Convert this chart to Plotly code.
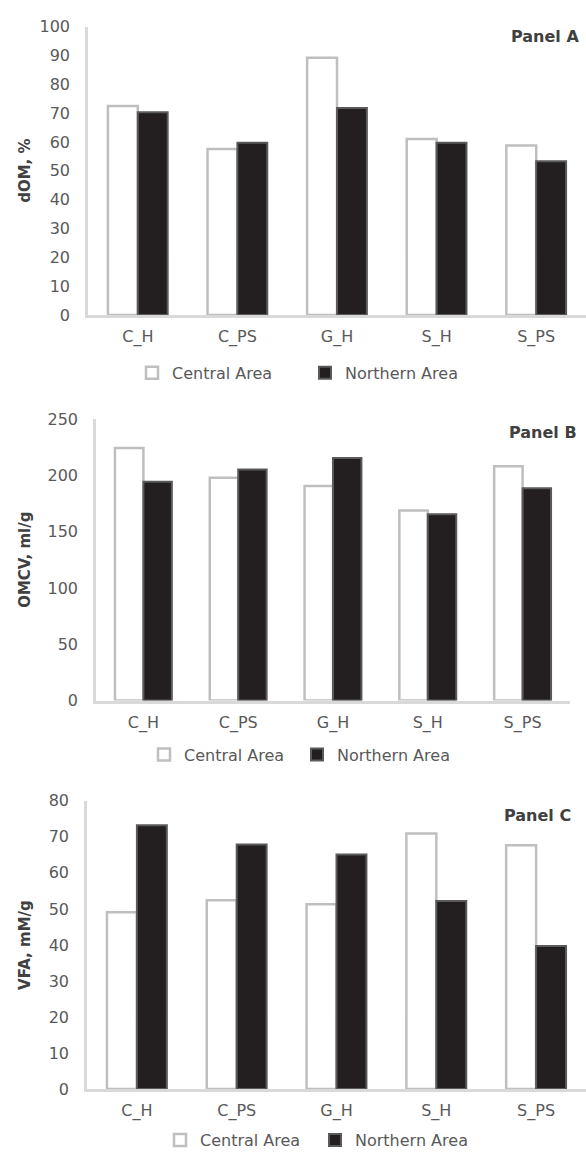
import plotly.graph_objects as go

categories = ["C_H", "C_PS", "G_H", "S_H", "S_PS"]
series_names = ["Central Area", "Northern Area"]

a_central = [72.5, 57.6, 89.2, 61.0, 58.8]
a_northern = [70.3, 59.7, 71.8, 59.7, 53.3]
b_central = [224.5, 198.0, 190.7, 168.8, 208.2]
b_northern = [194.5, 205.3, 215.5, 165.5, 188.6]
c_central = [49.1, 52.4, 51.3, 70.9, 67.7]
c_northern = [73.2, 67.9, 65.1, 52.2, 39.7]

y_titles = ["dOM, %", "OMCV, ml/g", "VFA, mM/g"]
panel_labels = ["Panel A", "Panel B", "Panel C"]
y_ranges = [[0, 100], [0, 250], [0, 80]]
y_dticks = [10, 50, 10]

W, H = 586, 1162
FONT = "DejaVu Sans"
GRAY = "#595959"
AX = "#d9d9d9"

# pixel geometry of each panel: (left, right, top, bottom)
boxes = [(88, 586, 18, 311), (96, 570, 417, 703), (87, 586, 805, 1098)]
legend_pos = [(132, 370), (144, 758), (160, 1150)]
legend_entry = [128, 108, 110]
label_pos = [(581, 28), (579, 431), (573, 820)]

data = [(a_central, a_northern), (b_central, b_northern), (c_central, c_northern)]

fig = go.Figure()
for i, (cen, nor) in enumerate(data):
    xa = "x" if i == 0 else f"x{i+1}"
    ya = "y" if i == 0 else f"y{i+1}"
    lg = "legend" if i == 0 else f"legend{i+1}"
    fig.add_trace(go.Bar(x=categories, y=cen, name=series_names[0], xaxis=xa, yaxis=ya,
                         marker=dict(color="white", line=dict(color="#bfbfbf", width=2.5)),
                         legend=lg, showlegend=True))
    fig.add_trace(go.Bar(x=categories, y=nor, name=series_names[1], xaxis=xa, yaxis=ya,
                         marker=dict(color="#231f20", line=dict(color="#5a5a5a", width=2)),
                         legend=lg, showlegend=True))

layout = dict(
    width=W, height=H, margin=dict(l=0, r=0, t=0, b=0),
    paper_bgcolor="white", plot_bgcolor="white",
    barmode="group", bargap=0.4, bargroupgap=0,
    font=dict(family=FONT, size=16, color=GRAY),
)
annotations = []
for i, (l, r, t, b) in enumerate(boxes):
    xk = "xaxis" if i == 0 else f"xaxis{i+1}"
    yk = "yaxis" if i == 0 else f"yaxis{i+1}"
    yref = "y" if i == 0 else f"y{i+1}"
    layout[xk] = dict(domain=[l / W, min(r / W, 1.0)], anchor=yref,
                      showline=True, linecolor=AX, linewidth=3, showgrid=False,
                      ticks="", tickfont=dict(family=FONT, size=16, color=GRAY),
                      ticklabelstandoff=5, zeroline=False, fixedrange=True)
    layout[yk] = dict(domain=[1 - b / H, 1 - t / H], anchor="x" if i == 0 else f"x{i+1}",
                      range=y_ranges[i], dtick=y_dticks[i], showline=True, linecolor=AX,
                      linewidth=2.5, showgrid=False, zeroline=False, ticks="",
                      tickfont=dict(family=FONT, size=16, color=GRAY),
                      ticklabelstandoff=12, fixedrange=True)
    lk = "legend" if i == 0 else f"legend{i+1}"
    lx, ly = legend_pos[i]
    layout[lk] = dict(orientation="h", x=lx / W, y=1 - ly / H, xanchor="left", yanchor="middle",
                      font=dict(family=FONT, size=16, color=GRAY), itemwidth=30,
                      entrywidth=legend_entry[i], entrywidthmode="pixels",
                      bgcolor="rgba(0,0,0,0)", traceorder="normal")
    px, py = label_pos[i]
    annotations.append(dict(text="<b>" + panel_labels[i] + "</b>", xref="paper", yref="paper",
                            x=px / W, y=1 - py / H, xanchor="right", yanchor="middle",
                            showarrow=False, font=dict(family=FONT, size=16, color="#404040")))
    annotations.append(dict(text="<b>" + y_titles[i] + "</b>", xref="paper", yref="paper",
                            x=25 / W, y=1 - (t + b) / 2 / H, xanchor="center", yanchor="middle",
                            textangle=-90, showarrow=False,
                            font=dict(family=FONT, size=15, color="#404040")))
layout["annotations"] = annotations
fig.update_layout(**layout)

fig.write_html("out.html", config={"displayModeBar": False},
               post_script="document.body.style.margin='0';document.body.style.overflow='hidden';")
